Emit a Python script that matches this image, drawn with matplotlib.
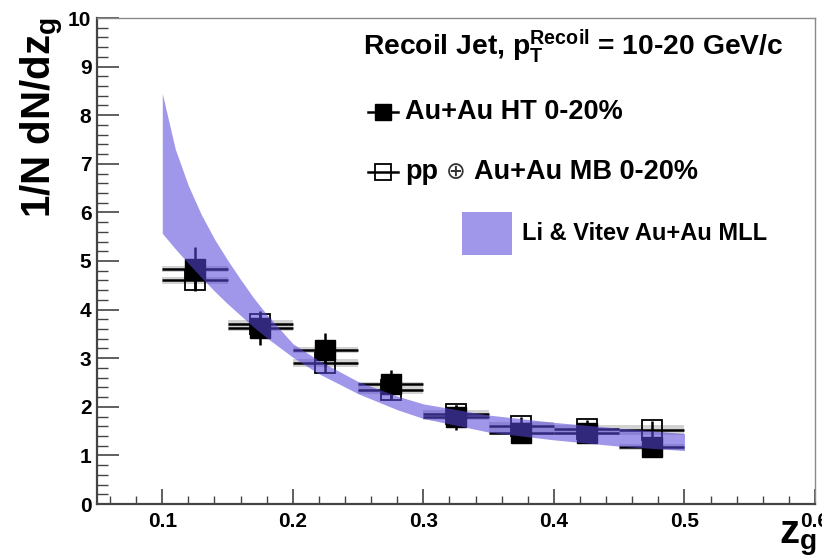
import numpy as np
import matplotlib
matplotlib.use("Agg")
import matplotlib.pyplot as plt
from matplotlib.patches import Rectangle

plt.rcParams["font.family"] = ["Liberation Sans", "DejaVu Sans"]
plt.rcParams["font.weight"] = "bold"
plt.rcParams["mathtext.fontset"] = "custom"
plt.rcParams["mathtext.rm"] = "Liberation Sans:bold"
plt.rcParams["mathtext.it"] = "Liberation Sans:bold"
plt.rcParams["mathtext.bf"] = "Liberation Sans:bold"

# z_g binning
bin_edges = [0.10, 0.15, 0.20, 0.25, 0.30, 0.35, 0.40, 0.45, 0.50]

# Au+Au HT 0-20%
ht_vals = [4.84, 3.62, 3.17, 2.46, 1.78, 1.47, 1.47, 1.18]
ht_err = [0.45, 0.35, 0.35, 0.30, 0.25, 0.20, 0.20, 0.20]
ht_sys = [0.06, 0.06, 0.06, 0.06, 0.06, 0.06, 0.06, 0.06]

# pp (+) Au+Au MB 0-20%
mb_vals = [4.60, 3.70, 2.90, 2.34, 1.85, 1.60, 1.55, 1.52]
mb_err = [0.20, 0.20, 0.20, 0.18, 0.18, 0.18, 0.18, 0.18]
mb_sys = [0.08, 0.08, 0.08, 0.08, 0.08, 0.08, 0.08, 0.10]

# Li & Vitev Au+Au MLL band
theo_z = [0.10, 0.11, 0.12, 0.13, 0.14, 0.15, 0.16, 0.17, 0.18, 0.20,
          0.22, 0.25, 0.28, 0.30, 0.35, 0.40, 0.45, 0.50]
theo_hi = [8.45, 7.30, 6.55, 5.95, 5.45, 5.02, 4.62, 4.24, 3.90, 3.30,
           2.95, 2.52, 2.22, 2.06, 1.83, 1.68, 1.56, 1.45]
theo_lo = [5.57, 5.25, 4.95, 4.66, 4.38, 4.12, 3.88, 3.64, 3.42, 3.02,
           2.68, 2.27, 1.94, 1.76, 1.48, 1.32, 1.19, 1.10]

x_ticks = [0.1, 0.2, 0.3, 0.4, 0.5, 0.6]
y_ticks = list(range(0, 11))

W, H = 822, 558
fig = plt.figure(figsize=(W / 100, H / 100), dpi=100)
L, R, T, B = 97, 815, 18, 504
ax = fig.add_axes([L / W, 1 - B / H, (R - L) / W, (B - T) / H])
renderer = fig.canvas.get_renderer()


def axfrac(px, py):
    return (px - L) / (R - L), (B - py) / (B - T)


def text_px(px, py, s, **kw):
    """Place text at pixel coords (from the top-left); return its right edge."""
    t = fig.text(px / W, 1 - py / H, s, **kw)
    bb = t.get_window_extent(renderer=renderer)
    return bb.x1


edges = np.array(bin_edges)
zc = 0.5 * (edges[:-1] + edges[1:])
zhw = 0.5 * (edges[1:] - edges[:-1])

band_color = (88 / 255, 72 / 255, 218 / 255)
band_alpha = 0.57

# systematic boxes
for vals, sys in ((mb_vals, mb_sys), (ht_vals, ht_sys)):
    for x, hw, v, s in zip(zc, zhw, vals, sys):
        ax.add_patch(Rectangle((x - hw, v - s), 2 * hw, 2 * s,
                               facecolor="#d2d2d2", edgecolor="none", zorder=1))

ax.errorbar(zc, mb_vals, xerr=zhw, yerr=mb_err, fmt="s", ms=14,
            mfc="none", mec="black", mew=1.3, ecolor="black", elinewidth=1.8,
            capsize=0, zorder=2)
ax.errorbar(zc, ht_vals, xerr=zhw, yerr=ht_err, fmt="s", ms=14,
            mfc="black", mec="black", ecolor="black", elinewidth=1.8,
            capsize=0, zorder=3)

ax.fill_between(theo_z, theo_lo, theo_hi, color=band_color, alpha=band_alpha,
                linewidth=0, zorder=4)

ax.set_xlim(0.05, 0.6)
ax.set_ylim(0, 10)
ax.set_xticks(x_ticks)
ax.set_xticklabels([f"{v:.1f}" for v in x_ticks])
ax.set_yticks(y_ticks)
ax.set_yticklabels([str(v) for v in y_ticks])
ax.set_xticks(np.arange(0.06, 0.6, 0.02), minor=True)
ax.set_yticks(np.arange(0, 10.01, 0.2), minor=True)

ax.tick_params(axis="y", which="major", direction="in", length=15.5, width=1.2,
               color="#444444", labelsize=15, pad=4)
ax.tick_params(axis="y", which="minor", direction="in", length=7.8, width=1.0,
               color="#444444")
ax.tick_params(axis="x", which="major", direction="in", length=10.8, width=1.2,
               color="#444444", labelsize=15, pad=6)
ax.tick_params(axis="x", which="minor", direction="in", length=5.6, width=1.0,
               color="#444444")
for lab in ax.get_xticklabels() + ax.get_yticklabels():
    lab.set_fontweight("bold")

for side in ("left", "bottom"):
    ax.spines[side].set_color("#444444")
    ax.spines[side].set_linewidth(1.6)
for side in ("top", "right"):
    ax.spines[side].set_color("#8a8a8a")
    ax.spines[side].set_linewidth(1.0)

# axis titles
fig.text(42 / W, 1 - 17 / H, r"1/N dN/dz$_\mathregular{g}$", rotation=90,
         ha="center", va="top", fontsize=29, fontweight="bold")
fig.text(779 / W, 1 - 543 / H, r"z$_\mathregular{g}$", ha="left",
         va="baseline", fontsize=29, fontweight="bold")

# legend block
text_px(363, 46,
        r"Recoil Jet, p$_\mathregular{T}^\mathregular{Recoil}$ = 10-20 GeV/c",
        ha="left", va="center", fontsize=20.3, fontweight="bold")

x0, y0 = axfrac(368, 112)
x1, _ = axfrac(398, 112)
xm, _ = axfrac(383, 112)
ax.plot([x0, x1], [y0, y0], color="black", lw=1.8, transform=ax.transAxes,
        clip_on=False, zorder=5)
ax.plot([xm], [y0], marker="s", ms=12, mfc="black", mec="black",
        transform=ax.transAxes, clip_on=False, zorder=5)
text_px(405, 112, "Au+Au HT 0-20%", ha="left", va="center",
        fontsize=19.5, fontweight="bold")

x0, y1 = axfrac(368, 172)
ax.plot([x0, x1], [y1, y1], color="black", lw=1.8, transform=ax.transAxes,
        clip_on=False, zorder=5)
ax.plot([xm], [y1], marker="s", ms=12, mfc="none", mec="black", mew=1.3,
        transform=ax.transAxes, clip_on=False, zorder=5)
xr = text_px(405, 172, "pp", ha="left", va="center",
             fontsize=19.5, fontweight="bold")
xr = text_px(xr + 8, 172, "\u2295", ha="left", va="center",
             fontsize=17, fontweight="normal", color="#333333",
             family=["DejaVu Sans"])
text_px(xr + 8, 172, "Au+Au MB 0-20%", ha="left", va="center",
        fontsize=19.5, fontweight="bold")

bx0, by0 = axfrac(462, 255)
bx1, by1 = axfrac(512, 212)
ax.add_patch(Rectangle((bx0, by0), bx1 - bx0, by1 - by0, facecolor=band_color,
                       alpha=band_alpha, edgecolor="none",
                       transform=ax.transAxes, clip_on=False, zorder=5))
text_px(522, 233, "Li & Vitev Au+Au MLL", ha="left", va="center",
        fontsize=17, fontweight="bold")

fig.savefig("out.png", dpi=100)
